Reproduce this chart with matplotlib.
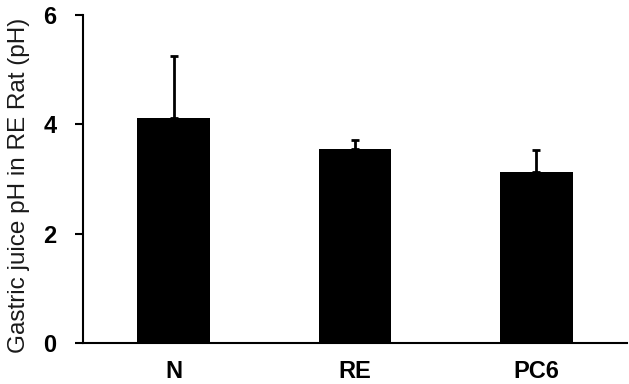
import matplotlib
matplotlib.use('Agg')
import matplotlib.pyplot as plt
import numpy as np

groups = ['N', 'RE', 'PC6']
ph_mean = [4.11, 3.55, 3.13]
ph_err = [1.14, 0.16, 0.40]
y_ticks = [0, 2, 4, 6]

plt.rcParams['font.family'] = 'Liberation Sans'

fig = plt.figure(figsize=(6.29, 3.84), dpi=100)
ax = fig.add_axes([0.132, 0.107, 0.865, 0.854])

x = np.arange(len(groups))
ax.bar(x, ph_mean, 0.40, color='black')
ax.errorbar(x, ph_mean, yerr=[np.zeros(len(ph_err)), ph_err], fmt='none',
            ecolor='black', elinewidth=2, capsize=3, capthick=2)

ax.set_xlim(-0.5, 2.5)
ax.set_ylim(0, 6)
ax.set_yticks(y_ticks, labels=[str(t) for t in y_ticks], fontsize=17, fontweight='bold')
ax.set_xticks(x, labels=groups, fontsize=17, fontweight='bold')
ax.tick_params(axis='x', length=0, pad=12)
ax.tick_params(axis='y', length=6, width=1.5, pad=13)
ax.set_ylabel('Gastric juice pH in RE Rat (pH)', fontsize=17.5, color='#1a1a1a')
ax.yaxis.set_label_coords(-0.098, 0.48)

ax.spines['top'].set_visible(False)
ax.spines['right'].set_visible(False)
ax.spines['left'].set_linewidth(1.5)
ax.spines['bottom'].set_linewidth(1.5)

fig.savefig('out.png', dpi=100)
